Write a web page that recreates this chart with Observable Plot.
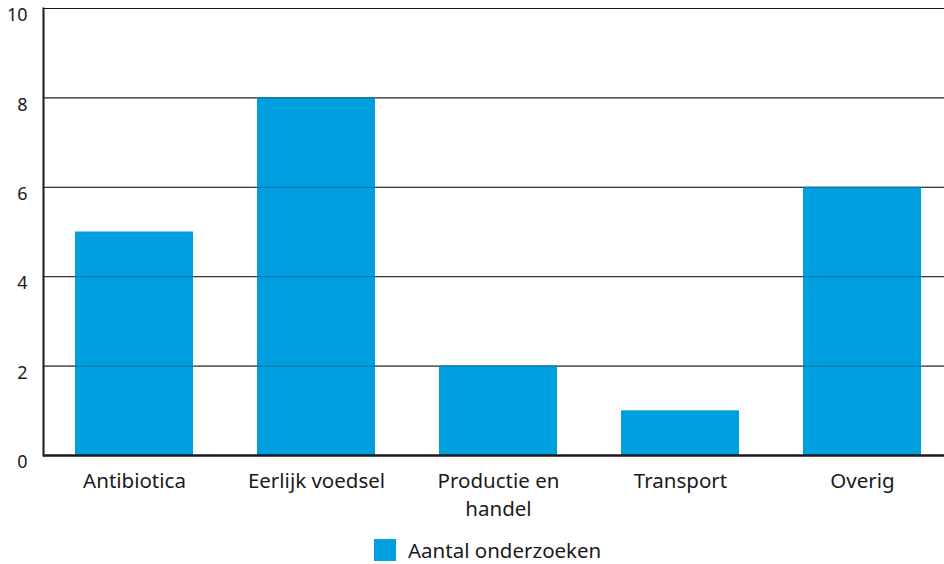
<!DOCTYPE html>
<html>
<head>
<meta charset="utf-8">
<script src="https://cdn.jsdelivr.net/npm/d3@7"></script>
<script src="https://cdn.jsdelivr.net/npm/@observablehq/plot@0.6"></script>
<style>
  body { margin: 0; background: #fff; font-family: "Noto Sans", sans-serif; }
  #chart svg { display: block; }
  #legend { display: flex; align-items: center; margin-left: 374px; margin-top: 8px; font-size: 20.5px; color: #1a1a1a; }
  #legend .sw { width: 22px; height: 22px; background: #009fe0; margin-right: 12px; }
</style>
</head>
<body>
<div id="chart"></div>
<div id="legend"><div class="sw"></div><span>Aantal onderzoeken</span></div>
<script>
const categories = ["Antibiotica", "Eerlijk voedsel", "Productie en handel", "Transport", "Overig"];
const values = [5, 8, 2, 1, 6];
const yTicks = [0, 2, 4, 6, 8, 10];
const labelLines = {"Productie en handel": "Productie en\nhandel"};

const data = categories.map((c, i) => ({category: c, value: values[i]}));

const plot = Plot.plot({
  width: 944,
  height: 528,
  marginTop: 8,
  marginBottom: 73,
  marginLeft: 43,
  marginRight: 0,
  style: {fontFamily: "Noto Sans, sans-serif", color: "#1a1a1a", background: "#fff"},
  x: {domain: categories, paddingInner: 0.3516, paddingOuter: 0.151, align: 0.58, label: null},
  y: {domain: [0, 10], ticks: yTicks, label: null},
  marks: [
    Plot.ruleY(yTicks.filter(d => d > 0), {stroke: "#1a1a1a", strokeWidth: 1}),
    Plot.barY(data, {x: "category", y: "value", fill: "#009fe0"}),
    Plot.ruleY(yTicks.filter(d => d > 0), {stroke: "#1a1a1a", strokeWidth: 1, strokeOpacity: 0.35}),
    Plot.axisY({ticks: yTicks, tickSize: 0, tickPadding: 16, dy: 7, fontSize: 18, label: null}),
    Plot.axisX({tickSize: 0, tickPadding: 12, fontSize: 20.5, lineHeight: 1.38, label: null,
      tickFormat: d => labelLines[d] ?? d}),
    Plot.ruleY([0], {stroke: "#1a1a1a", strokeWidth: 2.5}),
    Plot.frame({anchor: "left", stroke: "#1a1a1a", strokeWidth: 2})
  ]
});
document.getElementById("chart").appendChild(plot);
</script>
</body>
</html>
